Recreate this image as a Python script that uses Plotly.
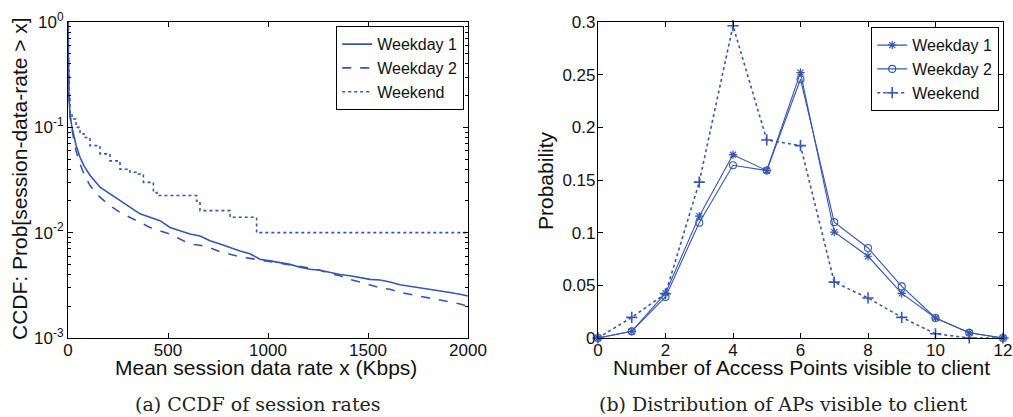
import plotly.graph_objects as go

# ---------------- data: (a) CCDF of session rates ----------------
rate_kbps = [0, 2, 5, 10, 20, 40, 60, 80, 110, 160, 210, 260, 310, 360, 410, 460,
             510, 560, 610, 660, 710, 760, 810, 860, 910, 960, 1010, 1060, 1110,
             1160, 1210, 1260, 1310, 1360, 1410, 1460, 1510, 1560, 1610, 1660,
             1710, 1760, 1810, 1860, 1910, 1960, 2000]
ccdf_weekday1 = [1.0, 0.3, 0.2, 0.13, 0.1, 0.068, 0.052, 0.043, 0.035, 0.027, 0.0233,
                 0.0202, 0.0174, 0.0151, 0.014, 0.013, 0.0112, 0.0104, 0.0097, 0.0093,
                 0.0084, 0.0078, 0.0072, 0.0067, 0.0063, 0.0056, 0.0054, 0.0052, 0.0050,
                 0.0047, 0.0045, 0.0044, 0.0042, 0.0040, 0.0039, 0.00375, 0.0036,
                 0.00355, 0.0034, 0.0032, 0.0031, 0.0030, 0.0029, 0.0028, 0.0027,
                 0.0026, 0.0025]
ccdf_weekday2 = [1.0, 0.3, 0.2, 0.13, 0.095, 0.06, 0.045, 0.036, 0.028, 0.0217, 0.018,
                 0.0156, 0.014, 0.0126, 0.0112, 0.0104, 0.0097, 0.0087, 0.0078, 0.0076,
                 0.0072, 0.0066, 0.0062, 0.0059, 0.0057, 0.0055, 0.0053, 0.0051, 0.0050,
                 0.0048, 0.0046, 0.0044, 0.0041, 0.0039, 0.0036, 0.0034, 0.0032,
                 0.0030, 0.0029, 0.0027, 0.0026, 0.0025, 0.0024, 0.0023, 0.0022,
                 0.0021, 0.0020]
weekend_rate_kbps = [0, 2, 5, 10, 20, 40, 60, 80, 110, 160, 210, 260, 310, 350, 377,
                     427, 445, 610, 643, 660, 795, 810, 910, 943, 2000]
ccdf_weekend = [1.0, 0.35, 0.2, 0.135, 0.12, 0.1, 0.087, 0.08, 0.067, 0.056, 0.048,
                0.040, 0.0375, 0.036, 0.030, 0.024, 0.0225, 0.0225, 0.020, 0.0162,
                0.0162, 0.014, 0.014, 0.01, 0.01]

# ---------------- data: (b) APs visible to client ----------------
num_aps = [0, 1, 2, 3, 4, 5, 6, 7, 8, 9, 10, 11, 12]
prob_weekday1 = [0, 0.0063, 0.0426, 0.1157, 0.174, 0.159, 0.252, 0.1006, 0.0776,
                 0.0423, 0.019, 0.005, 0]
prob_weekday2 = [0, 0.0063, 0.039, 0.1095, 0.164, 0.159, 0.2457, 0.110, 0.0855,
                 0.049, 0.019, 0.005, 0]
prob_weekend = [0, 0.0196, 0.042, 0.148, 0.2965, 0.188, 0.1826, 0.053, 0.038,
                0.0196, 0.004, 0, 0]

ytick_vals_log = [0.001, 0.01, 0.1, 1]
ytick_text_log = ["10<sup>-3</sup>", "10<sup>-2</sup>", "10<sup>-1</sup>", "10<sup>0</sup>"]
xtick_vals_a = [0, 500, 1000, 1500, 2000]
xtick_vals_b = [0, 2, 4, 6, 8, 10, 12]
ytick_vals_b = [0, 0.05, 0.1, 0.15, 0.2, 0.25, 0.3]
ytick_text_b = ["0", "0.05", "0.1", "0.15", "0.2", "0.25", "0.3"]

BLUE = "#3557ae"
W, H = 1013, 417
SANS = "Liberation Sans, Arial, sans-serif"
SERIF = "DejaVu Serif, serif"

fig = go.Figure()

# (a)
fig.add_trace(go.Scatter(x=rate_kbps, y=ccdf_weekday1, name="Weekday 1", mode="lines",
                         line=dict(color=BLUE, width=1.6),
                         xaxis="x", yaxis="y", legend="legend"))
fig.add_trace(go.Scatter(x=rate_kbps, y=ccdf_weekday2, name="Weekday 2", mode="lines",
                         line=dict(color=BLUE, width=1.6, dash="dash"),
                         xaxis="x", yaxis="y", legend="legend"))
fig.add_trace(go.Scatter(x=weekend_rate_kbps, y=ccdf_weekend, name="Weekend", mode="lines",
                         line=dict(color=BLUE, width=1.6, dash="dot", shape="hv"),
                         xaxis="x", yaxis="y", legend="legend"))

# (b)
fig.add_trace(go.Scatter(x=num_aps, y=prob_weekday1, name="Weekday 1", mode="lines+markers",
                         line=dict(color=BLUE, width=1.1),
                         marker=dict(symbol="asterisk-open", size=7, color=BLUE,
                                     line=dict(color=BLUE, width=1.2)),
                         cliponaxis=False, xaxis="x2", yaxis="y2", legend="legend2"))
fig.add_trace(go.Scatter(x=num_aps, y=prob_weekday2, name="Weekday 2", mode="lines+markers",
                         line=dict(color=BLUE, width=1.1),
                         marker=dict(symbol="circle-open", size=7, color=BLUE,
                                     line=dict(color=BLUE, width=1.1)),
                         cliponaxis=False, xaxis="x2", yaxis="y2", legend="legend2"))
fig.add_trace(go.Scatter(x=num_aps, y=prob_weekend, name="Weekend", mode="lines+markers",
                         line=dict(color=BLUE, width=1.6, dash="dot"),
                         marker=dict(symbol="cross-thin-open", size=8, color=BLUE,
                                     line=dict(color=BLUE, width=1.6)),
                         cliponaxis=False, xaxis="x2", yaxis="y2", legend="legend2"))

yd = [1 - 338 / H, 1 - 22 / H]
axis_common = dict(showline=True, linecolor="black", linewidth=1.2, mirror="allticks",
                   ticks="inside", ticklen=5, tickcolor="black", tickwidth=1,
                   showgrid=False, zeroline=False, automargin=False,
                   tickfont=dict(family=SANS, size=17, color="#111"))

minor_vals = [m * 10 ** e for e in (-3, -2, -1) for m in range(2, 10)]

legend_common = dict(xanchor="right", yanchor="top", bgcolor="white",
                     bordercolor="black", borderwidth=1.2,
                     font=dict(family=SANS, size=16, color="#111"),
                     tracegroupgap=0, itemwidth=30)

fig.update_layout(
    width=W, height=H,
    margin=dict(l=0, r=0, t=0, b=0, autoexpand=False),
    paper_bgcolor="white", plot_bgcolor="white",
    xaxis=dict(domain=[68 / W, 468 / W], range=[0, 2000], tickvals=xtick_vals_a,
               anchor="y", ticklabelstandoff=-4, **axis_common),
    yaxis=dict(domain=yd, type="log", range=[-3, 0], tickvals=ytick_vals_log,
               ticktext=ytick_text_log, anchor="x",
               minor=dict(tickvals=minor_vals, ticks="inside", ticklen=3,
                          tickcolor="black", showgrid=False),
               **axis_common),
    xaxis2=dict(domain=[598 / W, 1003 / W], range=[0, 12], tickvals=xtick_vals_b,
                anchor="y2", ticklabelstandoff=-4, **axis_common),
    yaxis2=dict(domain=yd, range=[0, 0.3], tickvals=ytick_vals_b, ticktext=ytick_text_b,
                anchor="x2", ticklabelstandoff=-2, **axis_common),
    legend=dict(x=464 / W, y=1 - 26 / H, **legend_common),
    legend2=dict(x=999 / W, y=1 - 27 / H, **legend_common),
    showlegend=True,
)

annos = [
    dict(text="Mean session data rate x (Kbps)", x=266 / W, y=1 - 367 / H,
         font=dict(family=SANS, size=21, color="#111")),
    dict(text="Number of Access Points visible to client", x=801 / W, y=1 - 367 / H,
         font=dict(family=SANS, size=21, color="#111")),
    dict(text="CCDF: Prob[session-data-rate > x]", x=19 / W, y=1 - 179 / H,
         textangle=-90, font=dict(family=SANS, size=21, color="#111")),
    dict(text="Probability", x=545 / W, y=1 - 181 / H, textangle=-90,
         font=dict(family=SANS, size=21, color="#111")),
    dict(text="(a) CCDF of session rates", x=258 / W, y=1 - 404 / H,
         font=dict(family=SERIF, size=19, color="#222")),
    dict(text="(b) Distribution of APs visible to client", x=783 / W, y=1 - 404 / H,
         font=dict(family=SERIF, size=19, color="#222")),
]
for a in annos:
    fig.add_annotation(xref="paper", yref="paper", showarrow=False,
                       xanchor="center", yanchor="middle", **a)

fig.write_html("out.html", config={"displayModeBar": False},
               post_script="document.body.style.margin='0';document.body.style.overflow='hidden';")
